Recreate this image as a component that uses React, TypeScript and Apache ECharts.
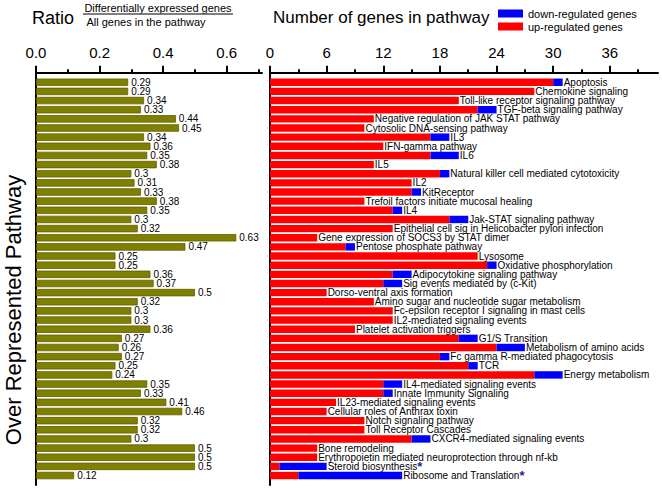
import React, { useEffect, useRef } from "react";
import * as echarts from "echarts";

const pathways = [
  "Apoptosis",
  "Chemokine signaling",
  "Toll-like receptor signaling pathway",
  "TGF-beta signaling pathway",
  "Negative regulation of JAK STAT pathway",
  "Cytosolic DNA-sensing pathway",
  "IL3",
  "IFN-gamma pathway",
  "IL6",
  "IL5",
  "Natural killer cell mediated cytotoxicity",
  "IL2",
  "KitReceptor",
  "Trefoil factors initiate mucosal healing",
  "IL4",
  "Jak-STAT signaling pathway",
  "Epithelial cell sig in Helicobacter pylori infection",
  "Gene expression of SOCS3 by STAT dimer",
  "Pentose phosphate pathway",
  "Lysosome",
  "Oxidative phosphorylation",
  "Adipocytokine signaling pathway",
  "Sig events mediated by (c-Kit)",
  "Dorso-ventral axis formation",
  "Amino sugar and nucleotide sugar metabolism",
  "Fc-epsilon receptor I signaling in mast cells",
  "IL2-mediated signaling events",
  "Platelet activation triggers",
  "G1/S Transition",
  "Metabolism of amino acids",
  "Fc gamma R-mediated phagocytosis",
  "TCR",
  "Energy metabolism",
  "IL4-mediated signaling events",
  "Innate Immunity Signaling",
  "IL23-mediated signaling events",
  "Cellular roles of Anthrax toxin",
  "Notch signaling pathway",
  "Toll Receptor Cascades",
  "CXCR4-mediated signaling events",
  "Bone remodeling",
  "Erythropoietin mediated neuroprotection through nf-kb",
  "Steroid biosynthesis",
  "Ribosome and Translation",
];

const ratios = [
  0.29, 0.29, 0.34, 0.33, 0.44, 0.45, 0.34, 0.36, 0.35, 0.38, 0.3, 0.31, 0.33, 0.38, 0.35,
  0.3, 0.32, 0.63, 0.47, 0.25, 0.25, 0.36, 0.37, 0.5, 0.32, 0.3, 0.3, 0.36, 0.27, 0.26,
  0.27, 0.25, 0.24, 0.35, 0.33, 0.41, 0.46, 0.32, 0.32, 0.3, 0.5, 0.5, 0.5, 0.12,
];

const upGenes = [
  30, 28, 20, 22, 11, 10, 17, 12, 17, 11, 18, 15, 15, 10, 13, 19, 13, 5, 8, 22, 23, 13,
  12, 6, 11, 13, 13, 9, 20, 24, 18, 21, 28, 12, 12, 7, 6, 10, 10, 15, 5, 5, 1, 3,
];

const downGenes = [
  1, 0, 0, 2, 0, 0, 2, 0, 3, 0, 1, 0, 1, 0, 1, 2, 0, 0, 1, 0, 1, 2, 2, 0, 0, 0, 0, 0, 2,
  3, 1, 1, 3, 2, 1, 0, 0, 0, 0, 2, 0, 0, 5, 11,
];

const starred = ["Steroid biosynthesis", "Ribosome and Translation"];

const ratioTicks = [0, 0.2, 0.4, 0.6];
const countTicks = [0, 6, 12, 18, 24, 30, 36];

const FONT = "'Liberation Sans', Arial, sans-serif";

export default function App() {
  const ref = useRef<HTMLDivElement>(null);

  useEffect(() => {
    if (!ref.current) return;
    const chart = echarts.init(ref.current, null, { renderer: "svg" });

    const frameTop = 72.7;
    const frameHeight = 412.3;
    const barTop = 77.7;
    const barHeight = 402.4;
    const leftX = 36;
    const leftW = 226;
    const rightX = 270;
    const rightW = 388;
    const ratioMax = 0.711;
    const countMax = 41.1;
    const bw = 7.4;

    const frameAxis = (grid: number, max: number, interval: number, ticks: number[], fmt: (v: number) => string) => ({
      gridIndex: grid,
      type: "value",
      position: "top",
      min: 0,
      max,
      interval,
      axisLine: { show: true, onZero: false, lineStyle: { color: "#000", width: 2 } },
      axisTick: { show: true, customValues: ticks, length: 7, lineStyle: { color: "#000", width: 2 } },
      minorTick: { show: true, splitNumber: 2, length: 3.5, lineStyle: { color: "#000", width: 2 } },
      axisLabel: {
        customValues: ticks,
        formatter: fmt,
        fontSize: 15,
        color: "#000",
        margin: 13,
        fontFamily: FONT,
      },
      splitLine: { show: false },
      minorSplitLine: { show: false },
    });

    const frameY = (grid: number) => ({
      gridIndex: grid,
      type: "value",
      min: 0,
      max: 1,
      axisLine: { show: true, onZero: false, lineStyle: { color: "#000", width: 2 } },
      axisTick: { show: false },
      axisLabel: { show: false },
      splitLine: { show: false },
    });

    chart.setOption({
      animation: false,
      textStyle: { fontFamily: FONT },
      grid: [
        { left: leftX, top: frameTop, width: leftW, height: frameHeight },
        { left: leftX, top: barTop, width: leftW, height: barHeight },
        { left: rightX, top: frameTop, width: rightW, height: frameHeight },
        { left: rightX, top: barTop, width: rightW, height: barHeight },
      ],
      xAxis: [
        frameAxis(0, ratioMax, 0.2, ratioTicks, (v: number) => v.toFixed(1)),
        { gridIndex: 1, type: "value", min: 0, max: ratioMax, show: false },
        frameAxis(2, countMax, 6, countTicks, (v: number) => String(v)),
        { gridIndex: 3, type: "value", min: 0, max: countMax, show: false },
      ],
      yAxis: [
        frameY(0),
        { gridIndex: 1, type: "category", data: pathways, inverse: true, show: false },
        frameY(2),
        { gridIndex: 3, type: "category", data: pathways, inverse: true, show: false },
      ],
      legend: {
        data: ["down-regulated genes", "up-regulated genes"],
        orient: "vertical",
        left: 493,
        top: 3,
        icon: "rect",
        itemWidth: 25,
        itemHeight: 8,
        itemGap: 2,
        textStyle: { fontSize: 11, color: "#000", fontFamily: FONT },
      },
      graphic: [
        {
          type: "text",
          x: 13,
          y: 310,
          rotation: Math.PI / 2,
          style: {
            text: "Over Represented Pathway",
            fontSize: 22,
            fontFamily: FONT,
            fill: "#000",
            align: "center",
            verticalAlign: "middle",
          },
        },
        {
          type: "text",
          x: 53,
          y: 17.5,
          style: { text: "Ratio", fontSize: 18, fontFamily: FONT, fill: "#000", align: "center", verticalAlign: "middle" },
        },
        {
          type: "text",
          x: 158,
          y: 8,
          style: {
            text: "Differentially expressed genes",
            fontSize: 11,
            fontFamily: FONT,
            fill: "#000",
            align: "center",
            verticalAlign: "middle",
          },
        },
        {
          type: "line",
          shape: { x1: 83, y1: 14, x2: 233, y2: 14 },
          style: { stroke: "#555", lineWidth: 1.6 },
        },
        {
          type: "text",
          x: 146,
          y: 22,
          style: {
            text: "All genes in the pathway",
            fontSize: 11,
            fontFamily: FONT,
            fill: "#000",
            align: "center",
            verticalAlign: "middle",
          },
        },
        {
          type: "text",
          x: 273,
          y: 17.5,
          style: {
            text: "Number of genes in pathway",
            fontSize: 17,
            fontFamily: FONT,
            fill: "#000",
            align: "left",
            verticalAlign: "middle",
          },
        },
      ],
      series: [
        {
          name: "ratio",
          type: "bar",
          xAxisIndex: 1,
          yAxisIndex: 1,
          data: ratios,
          barWidth: bw,
          itemStyle: { color: "#808000", borderColor: "#5e5e00", borderWidth: 0.8 },
          label: {
            show: true,
            position: "right",
            distance: 3,
            fontSize: 10,
            lineHeight: 9,
            color: "#000",
            fontFamily: FONT,
            formatter: "{c}",
          },
        },
        {
          name: "up-regulated genes",
          type: "bar",
          stack: "genes",
          xAxisIndex: 3,
          yAxisIndex: 3,
          data: upGenes,
          barWidth: bw,
          itemStyle: { color: "#ff0000" },
        },
        {
          name: "down-regulated genes",
          type: "bar",
          stack: "genes",
          xAxisIndex: 3,
          yAxisIndex: 3,
          data: downGenes,
          barWidth: bw,
          itemStyle: { color: "#0000ff" },
          label: {
            show: true,
            position: "right",
            distance: 1,
            fontFamily: FONT,
            lineHeight: 9,
            formatter: (p: any) => {
              const name = pathways[p.dataIndex];
              return starred.includes(name) ? `{n|${name}}{s|*}` : `{n|${name}}`;
            },
            rich: {
              n: { fontSize: 10, lineHeight: 9, color: "#000", fontFamily: FONT },
              s: { fontSize: 13, lineHeight: 9, color: "#22229a", fontWeight: "bold", fontFamily: FONT },
            },
          },
        },
      ],
    });

    return () => chart.dispose();
  }, []);

  return (
    <div
      ref={ref}
      style={{ position: "fixed", left: 0, top: 0, width: 662, height: 489, background: "#fff" }}
    />
  );
}
